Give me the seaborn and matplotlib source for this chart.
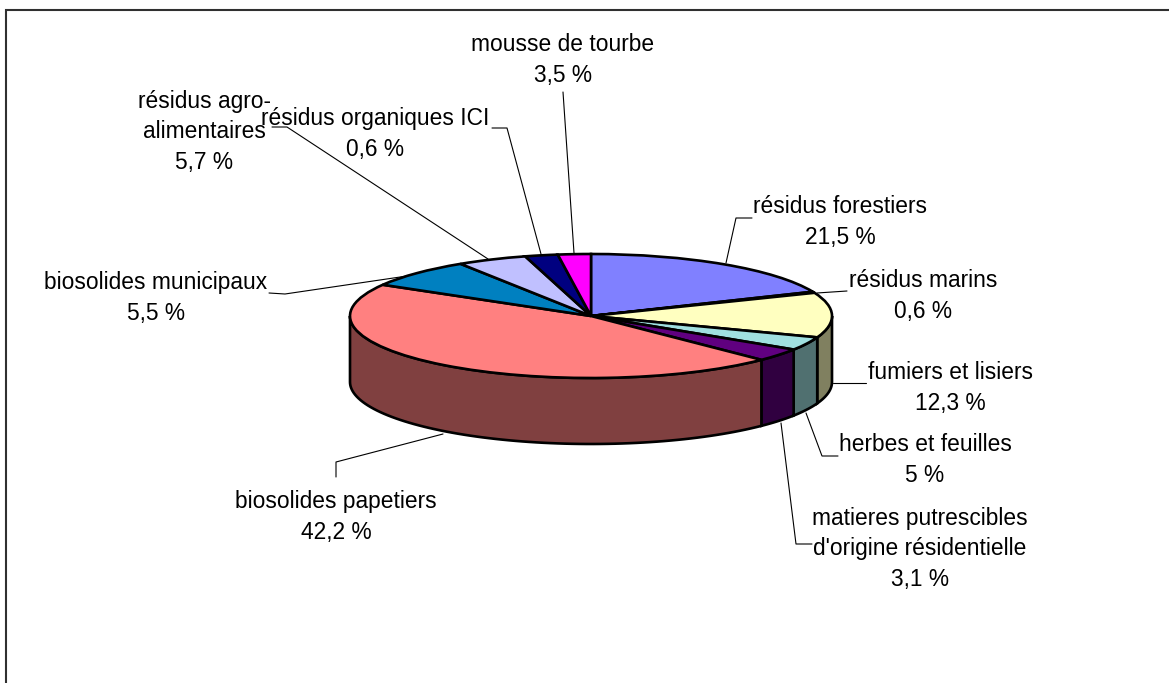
import numpy as np
import matplotlib
matplotlib.use("Agg")
import matplotlib.pyplot as plt
from matplotlib.colors import to_rgb
import seaborn as sns

# slice names and the percentages printed in the labels
names = ["résidus forestiers", "résidus marins", "fumiers et lisiers",
         "herbes et feuilles", "matieres putrescibles\nd'origine résidentielle",
         "biosolides papetiers", "biosolides municipaux",
         "résidus agro-\nalimentaires", "résidus organiques ICI", "mousse de tourbe"]
printed_pct = [21.5, 0.6, 12.3, 5, 3.1, 42.2, 5.5, 5.7, 0.6, 3.5]

# slice sizes as they look on the picture (they differ from the printed ones)
drawn_share = [18.6, 0.3, 11.7, 3.5, 3.4, 45.9, 7.5, 4.7, 2.2, 2.2]

slice_colors = ["#8080FF", "#802060", "#FFFFC0", "#A0E0E0", "#600080",
                "#FF8080", "#0080C0", "#C0C0FF", "#000080", "#FF00FF"]

# layout, in pixels of the 1169x683 picture
W, H = 1169, 683
CX, CY, RX, RY, DEPTH = 591, 316, 241, 62, 66
label_pos = [(840, 222), (923, 296), (950, 388), (925, 460), (920, 549),
             (336, 517), (156, 298), (204, 132), (375, 134), (563, 60)]
leaders = [[(752, 218), (736, 218), (726, 263)],
           [(847, 291), (817, 293)],
           [(866, 383), (833, 383)],
           [(838, 456), (822, 456), (806, 413)],
           [(812, 544), (796, 544), (781, 423)],
           [(336, 477), (336, 462), (443, 434)],
           [(269, 293), (285, 294), (407, 276)],
           [(272, 127), (287, 127), (488, 259)],
           [(492, 128), (507, 128), (541, 254)],
           [(563, 92), (574, 253)]]

sns.set_theme(style="white")
plt.rcParams["font.family"] = ["Liberation Sans", "DejaVu Sans"]
palette = sns.color_palette(slice_colors)

fig = plt.figure(figsize=(W / 100, H / 100), dpi=100, facecolor="white")
ax = fig.add_axes([0, 0, 1, 1])
ax.pie(drawn_share, colors=palette, startangle=90, counterclock=False, radius=1,
       wedgeprops={"edgecolor": "black", "linewidth": 1.9, "zorder": 3})
ax.set_aspect("auto")
ax.set_xlim(-CX / RX, (W - CX) / RX)
ax.set_ylim((CY - H) / RY, CY / RY)

# side wall of the disc, front half only
edges = 90 - np.cumsum([0] + drawn_share) * 3.6
depth = DEPTH / RY
for i, color in enumerate(palette):
    start = min(edges[i], 0)
    stop = max(edges[i + 1], -180)
    if start <= stop:
        continue
    t = np.radians(np.linspace(start, stop, 80))
    xs = np.r_[np.cos(t), np.cos(t[::-1])]
    ys = np.r_[np.sin(t), np.sin(t[::-1]) - depth]
    ax.fill(xs, ys, facecolor=tuple(c * 0.5 for c in to_rgb(color)),
            edgecolor="black", linewidth=1.9, zorder=2)

# overlay in picture pixels for frame, labels and leader lines
over = fig.add_axes([0, 0, 1, 1], facecolor="none")
over.set_xlim(0, W)
over.set_ylim(H, 0)
over.axis("off")
over.plot([6, 6, W], [H, 10, 10], color="#303030", lw=1.5, solid_joinstyle="miter")

for name, pct, (x, y), line in zip(names, printed_pct, label_pos, leaders):
    text = f"{name}\n{pct:g} %".replace(".", ",")
    over.text(x, y, text, ha="center", va="center", fontsize=16.4, color="black",
              linespacing=1.39)
    over.plot(*zip(*line), color="black", lw=0.8)

fig.savefig("out.png", dpi=100)
